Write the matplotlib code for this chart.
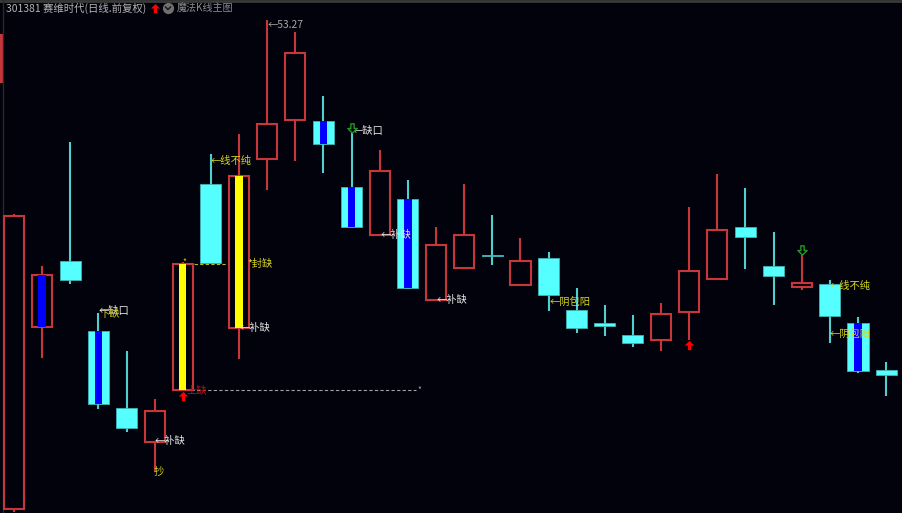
import matplotlib
matplotlib.use("Agg")
import matplotlib.pyplot as plt
from matplotlib.path import Path

plt.rcParams['font.family'] = ['Noto Sans CJK SC', 'DejaVu Sans']

# daily bars, prices
opens_top = [47.39, 45.62, 46.04, 43.94, 41.63, 41.54, 45.95, 48.35, 48.59, 50.15, 52.28, 50.24, 48.26, 48.74, 47.90, 46.52,
             46.82, 46.22, 46.04, 46.13, 44.57, 44.18, 43.82, 44.45, 45.74, 46.97, 47.06, 45.89, 45.38, 45.35, 44.18, 42.77]
opens_bot = [38.60, 44.06, 45.47, 41.75, 41.03, 40.61, 42.17, 45.98, 44.03, 49.10, 50.27, 49.55, 47.06, 46.82, 45.23, 44.87,
             45.83, 46.19, 45.32, 45.02, 44.03, 44.09, 43.58, 43.67, 44.51, 45.50, 46.76, 45.59, 45.26, 44.39, 42.74, 42.62]
highs = [47.45, 45.89, 49.61, 44.48, 43.34, 41.90, 46.01, 49.25, 49.85, 53.27, 52.91, 50.99, 49.91, 49.37, 48.47, 47.06,
         48.35, 47.42, 46.73, 46.31, 45.23, 44.72, 44.42, 44.78, 47.66, 48.65, 48.23, 46.91, 46.22, 45.47, 44.36, 43.01]
lows = [38.51, 43.13, 45.35, 41.60, 40.91, 39.71, 42.17, 45.98, 43.10, 48.17, 49.04, 48.68, 47.06, 46.82, 45.20, 44.87,
        45.83, 45.92, 45.32, 44.54, 43.88, 43.79, 43.46, 43.34, 43.67, 45.50, 45.80, 44.72, 45.17, 43.58, 42.68, 41.99]
kinds = ["r", "r", "c", "c", "c", "r", "r", "c", "r", "r", "r", "c", "c", "r", "c", "r",
         "r", "c", "r", "c", "c", "c", "c", "r", "r", "r", "c", "c", "r", "c", "c", "c"]
blue_bars = [1, 3, 11, 12, 14, 30]
yellow_bars = [6, 8]

# (bar, price, text, colour, dx px, dy px)
labels = [
    (9, 53.27, "←53.27", "#a8a8a8", 0, -5),
    (5, 40.64, "←补缺", "#e8e8e8", 0, 0),
    (3, 44.54, "←缺口", "#e8e8e8", 0, 0),
    (3, 44.48, "下缺", "#c8c820", 1, -1),
    (5, 39.71, "抄", "#c8c820", -1, 0),
    (6, 42.17, "上缺", "#c01010", 4, 0),
    (8, 45.95, "*封缺", "#d8d820", 8, 0),
    (8, 44.03, "←补缺", "#e8e8e8", 1, 0),
    (7, 49.04, "←线不纯", "#d8d820", 0, 0),
    (12, 49.94, "←缺口", "#e8e8e8", 1, 0),
    (13, 46.82, "←补缺", "#e8e8e8", 1, 0),
    (15, 44.87, "←补缺", "#e8e8e8", 1, 0),
    (19, 44.81, "←阴包阳", "#d8d820", 1, 0),
    (29, 45.29, "←线不纯", "#d8d820", 0, 0),
    (29, 43.85, "←阴包阳", "#d8d820", 0, 0),
]

BG = "#02020c"
RED = "#c8353a"
CYAN = "#55ffff"
WICK_CYAN = "#4fcfcf"

fig = plt.figure(figsize=(9.03, 5.13), dpi=100, facecolor=BG)
ax = fig.add_axes([0, 0, 1, 1], facecolor=BG)
ax.set_xlim(-0.498, 31.6)
ax.set_ylim(38.48, 53.87)
ax.axis("off")

for i in range(len(kinds)):
    red = kinds[i] == "r"
    ax.vlines(i, lows[i], highs[i], color=RED if red else WICK_CYAN, lw=1.5, zorder=2)
    h = opens_top[i] - opens_bot[i]
    if red:
        ax.bar(i, h, 0.72, opens_bot[i], facecolor=BG, edgecolor=RED, lw=1.5, zorder=3)
    else:
        ax.bar(i, h, 0.75, opens_bot[i], facecolor=CYAN, edgecolor="#3fb5b5", lw=0.6, zorder=3)
    if i in blue_bars:
        ax.bar(i, h, 0.26, opens_bot[i], color="#0000ff", zorder=4)
    if i in yellow_bars:
        ax.bar(i, h, 0.26, opens_bot[i], color="#ffff00", zorder=4)

# gap lines
ax.hlines(45.95, 6, 8.3, color="#b8b820", lw=0.8, ls=(0, (3, 2)), zorder=1)
ax.hlines(42.17, 6.3, 14.3, color="#a0a0a0", lw=0.8, ls=(0, (3, 2)), zorder=1)
ax.annotate("*", (14.3, 42.17), xytext=(3, 0), textcoords="offset pixels", color="#a0a0a0", fontsize=6, ha="center", va="center")
ax.annotate("*", (6, 45.95), xytext=(2, 2), textcoords="offset pixels", color="#c8c820", fontsize=6, ha="center", va="center")

for bar, price, text, colour, dx, dy in labels:
    ax.annotate(text, (bar, price), xytext=(dx, dy), textcoords="offset pixels", color=colour,
                fontsize=7.4, ha="left", va="center", zorder=6)

# arrow markers
up_arrow = Path([(-0.35, -1), (0.35, -1), (0.35, 0), (1, 0), (0, 1), (-1, 0), (-0.35, 0), (-0.35, -1)], closed=True)
down_arrow = Path([(-0.35, 1), (0.35, 1), (0.35, 0), (1, 0), (0, -1), (-1, 0), (-0.35, 0), (-0.35, 1)], closed=True)
ax.scatter([6, 24], [41.99, 43.52], marker=up_arrow, s=45, color="#ff0000", zorder=6, linewidths=0)
ax.scatter([12, 28], [50.03, 46.37], marker=down_arrow, s=45, facecolor=BG, edgecolor="#1f9a1f", lw=1, zorder=6)

# top strip and left scale
ax.axhline(53.83, color="#3a3a3a", lw=2)
ax.axvline(-0.39, color="#2a2a2a", lw=1)
ax.fill_betweenx([51.38, 52.85], -0.498, -0.40, color="#c8353a", lw=0)

# title row
fig.text(6 / 903, 1 - 12 / 513, "301381 赛维时代(日线.前复权)", color="#b4b4b4", fontsize=7.5, va="baseline")
fig.text(177 / 903, 1 - 12 / 513, "魔法K线主图", color="#8c8c8c", fontsize=7.2, va="baseline")
head = fig.add_axes([149 / 903, 1 - 14 / 513, 26 / 903, 12 / 513], facecolor="none")
head.set_xlim(0, 26)
head.set_ylim(0, 12)
head.axis("off")
head.scatter([5.5], [6], marker=up_arrow, s=42, color="#ff0000", linewidths=0)
head.scatter([19], [6], s=65, color="#707070", linewidths=0)
head.plot([16.5, 19, 21.5], [7, 4.5, 7], color="#1a1a1a", lw=1.1)

fig.savefig("out.png", dpi=100, facecolor=BG)
